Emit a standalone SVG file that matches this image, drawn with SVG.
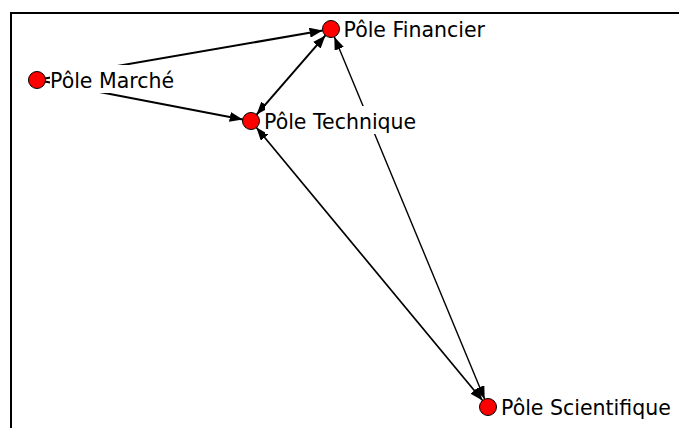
<svg xmlns="http://www.w3.org/2000/svg" width="679" height="428" viewBox="0 0 679 428">
<style>
.lbl{font-family:"DejaVu Sans",Verdana,sans-serif;font-size:20.5px;fill:#000}
.bg{fill:#fff;stroke:none}
.dot{fill:#ff0000;stroke:#000;stroke-width:1}
.edge{stroke:#000;fill:none}
</style>
<defs>
<marker id="arr" viewBox="0 0 13 10" refX="13" refY="5" markerWidth="13" markerHeight="10" markerUnits="userSpaceOnUse" orient="auto-start-reverse">
<path d="M0,0 L13,5 L0,10 z" fill="#000"/>
</marker>
</defs>
<rect x="0" y="0" width="679" height="428" fill="#fff"/>
<rect x="11" y="13" width="700" height="500" fill="#fff" stroke="#000" stroke-width="2"/>
<g id="connectors">
<line class="edge" x1="44.9" y1="78.6" x2="322.6" y2="30.5" stroke-width="2" marker-end="url(#arr)"/>
<line class="edge" x1="44.9" y1="81.5" x2="242.7" y2="119.4" stroke-width="2" marker-end="url(#arr)"/>
<line class="edge" x1="325.4" y1="35.4" x2="256.6" y2="114.6" stroke-width="2" marker-start="url(#arr)" marker-end="url(#arr)"/>
<line class="edge" x1="256.4" y1="127.5" x2="482.6" y2="400.5" stroke-width="1.7" marker-start="url(#arr)" marker-end="url(#arr)"/>
<line class="edge" x1="334.3" y1="36.8" x2="484.7" y2="399.2" stroke-width="1.4" marker-start="url(#arr)" marker-end="url(#arr)"/>
</g>
<g id="node-marche">
<rect class="bg" x="50" y="65" width="132" height="28"/>
<circle class="dot" cx="37" cy="80" r="8.5"/>
<text class="lbl" x="50" y="87.5">Pôle Marché</text>
</g>
<g id="node-financier">
<rect class="bg" x="344" y="14" width="150" height="28"/>
<circle class="dot" cx="331" cy="29" r="8.5"/>
<text class="lbl" x="343.5" y="36.5">Pôle Financier</text>
</g>
<g id="node-technique">
<rect class="bg" x="265" y="106" width="164" height="28"/>
<circle class="dot" cx="251" cy="121" r="8.5"/>
<text class="lbl" x="264" y="128.5">Pôle Technique</text>
</g>
<g id="node-scientifique">
<rect class="bg" x="501" y="392" width="176" height="28"/>
<circle class="dot" cx="488" cy="407" r="8.5"/>
<text class="lbl" x="501" y="414.5">Pôle Scientifique</text>
</g>
</svg>
